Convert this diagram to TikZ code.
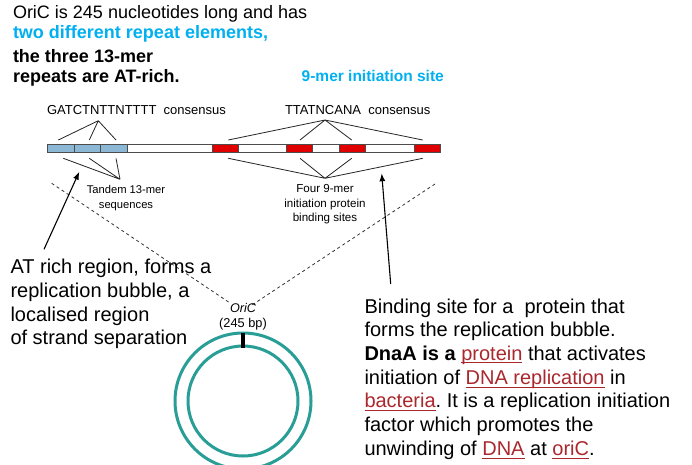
\documentclass[tikz,border=0pt]{standalone}
\usepackage{fontspec}
\setmainfont{Liberation Sans}
\usetikzlibrary{arrows.meta}
\frenchspacing
\definecolor{hiblue}{RGB}{0,176,240}
\definecolor{segblue}{RGB}{140,184,214}
\definecolor{segred}{RGB}{224,0,0}
\definecolor{teal2}{RGB}{40,158,150}
\definecolor{linkred}{RGB}{170,40,45}
\newcommand{\lnk}[1]{{\color{linkred}\setbox0\hbox{#1}\rlap{\rule[-3pt]{\wd0}{0.8pt}}\box0}}
\tikzset{
  txt/.style={anchor=base west, inner sep=0pt, outer sep=0pt},
  toptxt/.style={txt, font=\fontsize{18}{20}\selectfont},
  bigtxt/.style={txt, font=\fontsize{20}{23}\selectfont},
  smalltxt/.style={anchor=base, inner sep=0pt, font=\fontsize{11.2}{13}\selectfont},
  constxt/.style={txt, font=\fontsize{13}{15}\selectfont},
  conn/.style={draw=black!85, line width=0.8pt},
  dash2/.style={draw=black!80, line width=0.8pt, dash pattern=on 3pt off 3pt},
  arr/.style={draw=black, line width=1.1pt, -{Latex[length=8pt,width=6pt]}},
  seg/.style={draw=black!70, line width=0.6pt},
  ring/.style={draw=teal2, line width=3pt}
}
\begin{document}
\begin{tikzpicture}[x=1pt,y=-1pt]
\useasboundingbox[fill=white] (0,0) rectangle (692,464);

% top text
\node[toptxt] (t1) at (13,18.3) {OriC is 245 nucleotides long and has};
\node[toptxt, font=\fontsize{18}{20}\selectfont\bfseries, text=hiblue] (t2) at (13,38.5) {two different repeat elements,};
\node[toptxt, font=\fontsize{18}{20}\selectfont\bfseries] (t3) at (13,62.7) {the three 13-mer};
\node[toptxt, font=\fontsize{18}{20}\selectfont\bfseries] (t4) at (13,82.3) {repeats are AT-rich.};
\node[txt, font=\fontsize{15.5}{17}\selectfont\bfseries, text=hiblue] (nine) at (301.7,81.7) {9-mer initiation site};

% consensus labels
\node[constxt] (cons1) at (47,114) {GATCTNTTNTTTT\ \ consensus};
\node[constxt] (cons2) at (285,114) {TTATNCANA\ \ consensus};

% bar
\draw[seg, fill=white] (47.3,144) rectangle (440.7,152.5);
\draw[seg, fill=segblue] (47.3,144) rectangle (74.3,152.5);
\draw[seg, fill=segblue] (74.3,144) rectangle (100.7,152.5);
\draw[seg, fill=segblue] (100.7,144) rectangle (127.3,152.5);
\draw[seg, fill=segred] (212,144) rectangle (238.7,152.5);
\draw[seg, fill=segred] (286.7,144) rectangle (312.7,152.5);
\draw[seg, fill=segred] (339.3,144) rectangle (365.7,152.5);
\draw[seg, fill=segred] (414,144) rectangle (440.7,152.5);

% connector points
\coordinate (a1) at (98.3,120.7);
\coordinate (b1) at (58.3,140);
\coordinate (b2) at (89.3,140);
\coordinate (b3) at (116,140);
\coordinate (c1) at (63.3,158.3);
\coordinate (c2) at (89.3,158.3);
\coordinate (c3) at (116,158.3);
\coordinate (d1) at (120,179.3);
\draw[conn] (a1) -- (b1) (a1) -- (b2) (a1) -- (b3);
\draw[conn] (d1) -- (c1) (d1) -- (c2) (d1) -- (c3);

\coordinate (a2) at (325,120);
\coordinate (e1) at (228.3,140);
\coordinate (e2) at (300,140);
\coordinate (e3) at (351.7,140);
\coordinate (e4) at (422.7,140);
\coordinate (f1) at (228.3,158.3);
\coordinate (f2) at (300,158.3);
\coordinate (f3) at (351.7,158.3);
\coordinate (f4) at (422.7,158.3);
\coordinate (g1) at (325,178.3);
\draw[conn] (a2) -- (e1) (a2) -- (e2) (a2) -- (e3) (a2) -- (e4);
\draw[conn] (g1) -- (f1) (g1) -- (f2) (g1) -- (f3) (g1) -- (f4);

% small labels under bar
\node[smalltxt] (tan1) at (126,193.3) {Tandem 13-mer};
\node[smalltxt] (tan2) at (126,208.3) {sequences};
\node[smalltxt, font=\fontsize{11.6}{13}\selectfont] (four1) at (325,192.7) {Four 9-mer};
\node[smalltxt, font=\fontsize{11.6}{13}\selectfont] (four2) at (325,207) {initiation protein};
\node[smalltxt, font=\fontsize{11.6}{13}\selectfont] (four3) at (325,221.7) {binding sites};

% dashed lines
\coordinate (dl1) at (51.7,183.3);
\coordinate (dl2) at (230,303);
\coordinate (dr1) at (435,184);
\coordinate (dr2) at (252,305);
\draw[dash2] (dl1) -- (dl2);
\draw[dash2] (dr1) -- (dr2);

% OriC label
\node[anchor=base, inner sep=0pt, font=\fontsize{12.6}{14}\selectfont\itshape] (ori) at (243,312.5) {OriC};
\node[anchor=base, inner sep=0pt, font=\fontsize{12.8}{14}\selectfont] (bp) at (243,327) {(245 bp)};

% circles
\coordinate (cc) at (243,401);
\draw[ring] (cc) circle[radius=68];
\draw[ring] (cc) circle[radius=55];
\coordinate (m1) at (243,333);
\coordinate (m2) at (243,347.5);
\draw[line width=4.5pt, black] (m1) -- (m2);

% arrows
\coordinate (la1) at (44,249.3);
\coordinate (la2) at (79.3,171.7);
\coordinate (ra1) at (390.7,284);
\coordinate (ra2) at (381.7,173.3);
\draw[arr] (la1) -- (la2);
\draw[arr] (ra1) -- (ra2);

% left text block
\node[bigtxt] (l1) at (10.5,273.3) {AT rich region, forms a};
\node[bigtxt] (l2) at (10.5,297) {replication bubble, a};
\node[bigtxt] (l3) at (10.5,321) {localised region};
\node[bigtxt] (l4) at (10.5,344.6) {of strand separation};

% right text block
\node[bigtxt] (r1) at (364.5,313.3) {Binding site for a\ \ protein that};
\node[bigtxt] (r2) at (364.5,336.7) {forms the replication bubble.};
\node[bigtxt] (r3) at (364.5,360) {\textbf{DnaA is a} \lnk{protein} that activates};
\node[bigtxt] (r4) at (364.5,384.3) {initiation of \lnk{DNA replication} in};
\node[bigtxt] (r5) at (364.5,407.7) {\lnk{bacteria}. It is a replication initiation};
\node[bigtxt] (r6) at (364.5,431.7) {factor which promotes the};
\node[bigtxt] (r7) at (364.5,455.7) {unwinding of \lnk{DNA} at \lnk{oriC}.};
\end{tikzpicture}
\end{document}
